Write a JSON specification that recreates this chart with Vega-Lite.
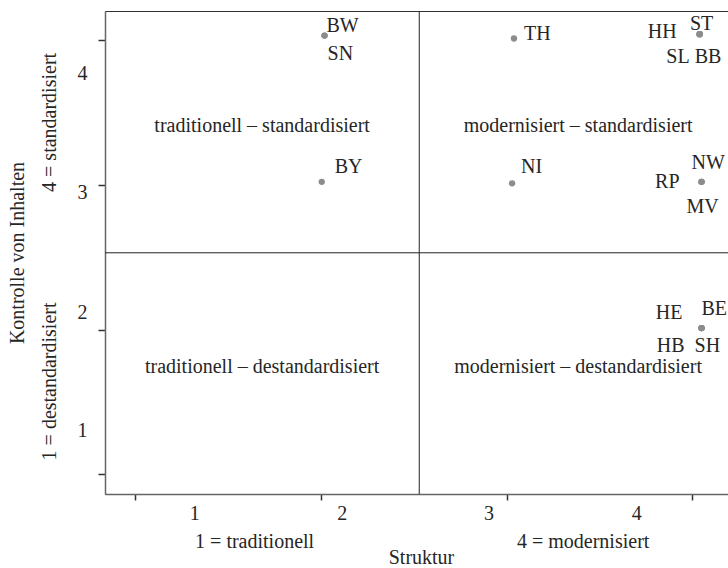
{
  "$schema": "https://vega.github.io/schema/vega-lite/v6.json",
  "autosize": "none",
  "width": 632,
  "height": 483,
  "padding": {"left": 105, "top": 11, "right": -9, "bottom": 74},
  "config": {
    "view": {"stroke": "#333333", "strokeWidth": 1},
    "font": "Liberation Serif",
    "axis": {"labelFont": "Liberation Serif", "titleFont": "Liberation Serif", "labelFontSize": 20, "titleFontSize": 20, "labelColor": "#262626", "titleColor": "#262626", "titleFontWeight": "normal", "grid": false, "labelOverlap": false, "labelFlush": false},
    "text": {"font": "Liberation Serif", "fontSize": 20, "fill": "#262626"}
  },
  "datasets": {
    "states": [
      {"s": "BW", "x": 2.02, "y": 4.03},
      {"s": "SN", "x": 2.02, "y": 4.03},
      {"s": "BY", "x": 2.005, "y": 3.02},
      {"s": "TH", "x": 3.04, "y": 4.01},
      {"s": "NI", "x": 3.03, "y": 3.01},
      {"s": "HH", "x": 4.04, "y": 4.04},
      {"s": "ST", "x": 4.04, "y": 4.04},
      {"s": "SL", "x": 4.04, "y": 4.04},
      {"s": "BB", "x": 4.04, "y": 4.04},
      {"s": "NW", "x": 4.05, "y": 3.02},
      {"s": "RP", "x": 4.05, "y": 3.02},
      {"s": "MV", "x": 4.05, "y": 3.02},
      {"s": "HE", "x": 4.05, "y": 2.01},
      {"s": "BE", "x": 4.05, "y": 2.01},
      {"s": "HB", "x": 4.05, "y": 2.01},
      {"s": "SH", "x": 4.05, "y": 2.01}
    ],
    "quadrants": [
      {"t": "traditionell – standardisiert", "x": 1.684, "y": 3.365},
      {"t": "modernisiert – standardisiert", "x": 3.3855, "y": 3.365},
      {"t": "traditionell – destandardisiert", "x": 1.684, "y": 1.697},
      {"t": "modernisiert – destandardisiert", "x": 3.3855, "y": 1.697}
    ],
    "div": [{"v": 2.53}]
  },
  "resolve": {"scale": {"x": "shared", "y": "shared"}, "axis": {"x": "independent", "y": "independent"}},
  "layer": [
    {
      "data": {"name": "div"},
      "mark": {"type": "rule", "color": "#222222", "strokeWidth": 1},
      "encoding": {
        "x": {"field": "v", "type": "quantitative", "scale": {"domain": [0.838, 4.241], "nice": false, "zero": false},
          "axis": {"orient": "bottom", "values": [1.641, 3.41], "labelExpr": "datum.value < 2.5 ? '1 = traditionell' : '4 = modernisiert'", "ticks": false, "tickSize": 0, "domain": false, "labelPadding": 53, "labelBaseline": "alphabetic", "labelAlign": "center", "title": "Struktur", "titleBaseline": "alphabetic", "titlePadding": 12}}
      }
    },
    {
      "data": {"name": "div"},
      "mark": {"type": "rule", "color": "#222222", "strokeWidth": 1},
      "encoding": {
        "y": {"field": "v", "type": "quantitative", "scale": {"domain": [0.864, 4.2], "nice": false, "zero": false},
          "axis": {"orient": "left", "values": [1.645, 3.434], "labelExpr": "datum.value < 2.5 ? '1 = destandardisiert' : '4 = standardisiert'", "labelAngle": -90, "labelAlign": "center", "labelBaseline": "alphabetic", "ticks": false, "tickSize": 0, "domain": false, "labelPadding": 50, "title": "Kontrolle von Inhalten", "titleBaseline": "alphabetic", "titlePadding": 16}}
      }
    },
    {
      "data": {"name": "quadrants"},
      "mark": {"type": "text", "align": "center", "baseline": "alphabetic"},
      "encoding": {
        "x": {"field": "x", "type": "quantitative", "scale": {"domain": [0.838, 4.241], "nice": false, "zero": false},
          "axis": {"orient": "bottom", "values": [1.319, 2.113, 2.903, 3.698], "labelExpr": "datum.value < 1.7 ? '1' : datum.value < 2.5 ? '2' : datum.value < 3.3 ? '3' : '4'", "ticks": false, "tickSize": 0, "domain": false, "labelPadding": 25, "labelBaseline": "alphabetic", "labelAlign": "center", "title": null}},
        "y": {"field": "y", "type": "quantitative", "scale": {"domain": [0.864, 4.2], "nice": false, "zero": false},
          "axis": {"orient": "left", "values": [1.306, 2.118, 2.943, 3.765], "labelExpr": "datum.value < 1.7 ? '1' : datum.value < 2.5 ? '2' : datum.value < 3.3 ? '3' : '4'", "ticks": false, "tickSize": 0, "domain": false, "labelPadding": 18, "labelBaseline": "middle", "labelAlign": "right", "title": null}},
        "text": {"field": "t", "type": "nominal"}
      }
    },
    {
      "data": {"name": "states"},
      "mark": {"type": "circle", "size": 40, "color": "#8c8c8c", "opacity": 1},
      "encoding": {
        "x": {"field": "x", "type": "quantitative", "scale": {"domain": [0.838, 4.241], "nice": false, "zero": false},
          "axis": {"orient": "bottom", "values": [1, 2, 3, 4], "labels": false, "ticks": true, "tickSize": 6, "tickWidth": 1.5, "tickColor": "#333333", "domain": true, "domainColor": "#666666", "domainWidth": 1.5, "title": null}},
        "y": {"field": "y", "type": "quantitative", "scale": {"domain": [0.864, 4.2], "nice": false, "zero": false},
          "axis": {"orient": "left", "values": [1, 2, 3, 4], "labels": false, "ticks": true, "tickSize": 7, "tickWidth": 1.5, "tickColor": "#333333", "domain": true, "domainColor": "#666666", "domainWidth": 1.5, "title": null}}
      }
    },
    {
      "data": {"name": "states"},
      "encoding": {
        "x": {"field": "x", "type": "quantitative", "scale": {"domain": [0.838, 4.241], "nice": false, "zero": false}, "axis": null},
        "y": {"field": "y", "type": "quantitative", "scale": {"domain": [0.864, 4.2], "nice": false, "zero": false}, "axis": null},
        "text": {"field": "s", "type": "nominal"}
      },
      "layer": [
        {"transform": [{"filter": "datum.s === 'BW'"}], "mark": {"type": "text", "align": "left", "baseline": "alphabetic", "dx": 2, "dy": -4}},
        {"transform": [{"filter": "datum.s === 'SN'"}], "mark": {"type": "text", "align": "left", "baseline": "alphabetic", "dx": 3, "dy": 24}},
        {"transform": [{"filter": "datum.s === 'BY'"}], "mark": {"type": "text", "align": "left", "baseline": "alphabetic", "dx": 13, "dy": -9}},
        {"transform": [{"filter": "datum.s === 'TH'"}], "mark": {"type": "text", "align": "left", "baseline": "alphabetic", "dx": 10, "dy": 1}},
        {"transform": [{"filter": "datum.s === 'NI'"}], "mark": {"type": "text", "align": "left", "baseline": "alphabetic", "dx": 9, "dy": -10}},
        {"transform": [{"filter": "datum.s === 'ST'"}], "mark": {"type": "text", "align": "center", "baseline": "alphabetic", "dx": 2, "dy": -4}},
        {"transform": [{"filter": "datum.s === 'HH'"}], "mark": {"type": "text", "align": "right", "baseline": "alphabetic", "dx": -23, "dy": 4}},
        {"transform": [{"filter": "datum.s === 'SL'"}], "mark": {"type": "text", "align": "right", "baseline": "alphabetic", "dx": -10, "dy": 29}},
        {"transform": [{"filter": "datum.s === 'BB'"}], "mark": {"type": "text", "align": "left", "baseline": "alphabetic", "dx": -5, "dy": 29}},
        {"transform": [{"filter": "datum.s === 'NW'"}], "mark": {"type": "text", "align": "left", "baseline": "alphabetic", "dx": -10, "dy": -13}},
        {"transform": [{"filter": "datum.s === 'RP'"}], "mark": {"type": "text", "align": "right", "baseline": "alphabetic", "dx": -22, "dy": 6}},
        {"transform": [{"filter": "datum.s === 'MV'"}], "mark": {"type": "text", "align": "center", "baseline": "alphabetic", "dx": 1, "dy": 31}},
        {"transform": [{"filter": "datum.s === 'HE'"}], "mark": {"type": "text", "align": "right", "baseline": "alphabetic", "dx": -19, "dy": -9}},
        {"transform": [{"filter": "datum.s === 'BE'"}], "mark": {"type": "text", "align": "left", "baseline": "alphabetic", "dx": 0, "dy": -13}},
        {"transform": [{"filter": "datum.s === 'HB'"}], "mark": {"type": "text", "align": "right", "baseline": "alphabetic", "dx": -17, "dy": 24}},
        {"transform": [{"filter": "datum.s === 'SH'"}], "mark": {"type": "text", "align": "left", "baseline": "alphabetic", "dx": -7, "dy": 24}}
      ]
    }
  ]
}
